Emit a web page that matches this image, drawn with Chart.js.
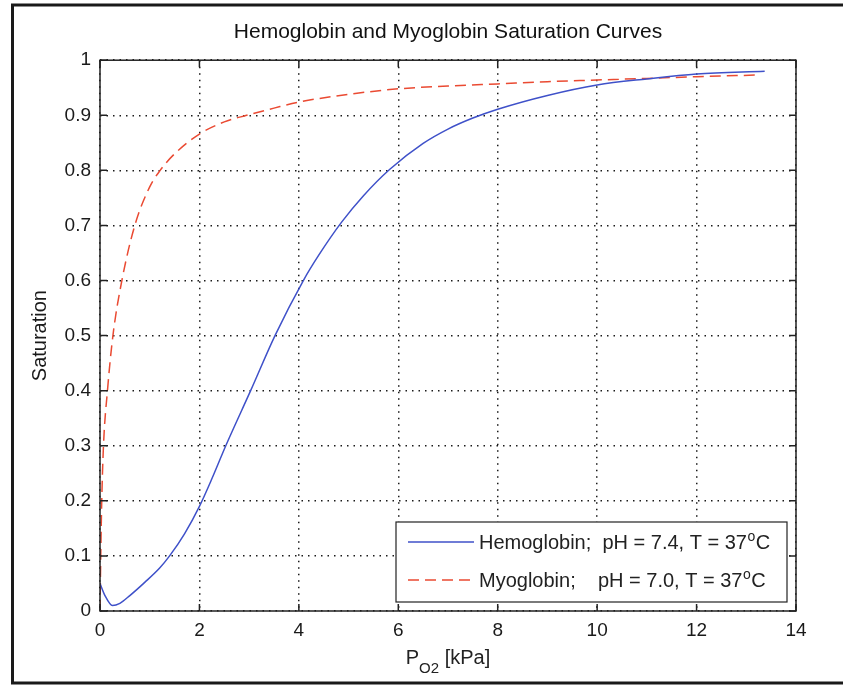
<!DOCTYPE html>
<html>
<head>
<meta charset="utf-8">
<script src="https://cdn.jsdelivr.net/npm/chart.js@4.4.1/dist/chart.umd.min.js"></script>
<style>
    html, body { margin: 0; padding: 0; background: #fff; }
    #wrap { width: 843px; height: 686px; }
</style>
</head>
<body>
<div id="wrap"><canvas id="c" width="843" height="686"></canvas></div>
<script>
// Curvas (P en kPa, saturación 0-1)
const hbP = [0, 0.1, 0.25, 0.4, 0.6, 0.9, 1.2, 1.4, 1.7, 2.0, 2.25, 2.53, 3.03, 3.52, 4.09, 4.4, 4.86, 5.3, 5.83, 6.5, 7.0, 7.5, 8.0, 9.0, 10.0, 11.0, 12.0, 13.37];
const hbS = [0.05, 0.028, 0.01, 0.014, 0.028, 0.052, 0.078, 0.1, 0.14, 0.19, 0.24, 0.3, 0.4, 0.5, 0.6, 0.646, 0.706, 0.754, 0.802, 0.849, 0.875, 0.895, 0.911, 0.936, 0.955, 0.966, 0.975, 0.98];

const mbP = [0, 0.015, 0.035, 0.07, 0.15, 0.26, 0.44, 0.7, 1.0, 1.21, 1.5, 2.0, 2.5, 2.95, 3.5, 4.0, 5.0, 6.0, 7.0, 8.0, 9.0, 10.0, 11.0, 12.0, 13.2];
const mbS = [0, 0.1, 0.2, 0.3, 0.4, 0.5, 0.6, 0.7, 0.77, 0.8, 0.83, 0.866, 0.888, 0.9, 0.913, 0.924, 0.938, 0.948, 0.953, 0.957, 0.961, 0.964, 0.967, 0.97, 0.973];

const TITULO = 'Hemoglobin and Myoglobin Saturation Curves';
const ETIQ_Y = 'Saturation';
const LEYENDA = ['Hemoglobin;  pH = 7.4, T = 37', 'Myoglobin;    pH = 7.0, T = 37'];

const AZUL = '#3f51c9';
const ROJO = '#ea4a32';
const FUENTE = '"Liberation Sans", Arial, sans-serif';

const pares = (xs, ys) => xs.map((x, i) => ({ x, y: ys[i] }));

// Caja estilo MATLAB: marco de la figura, ejes con ticks hacia dentro, leyenda y etiqueta X
const cajaMatlab = {
    id: 'cajaMatlab',
    beforeDraw(chart) {
        const c = chart.ctx;
        c.save();
        c.fillStyle = '#fff';
        c.fillRect(0, 0, chart.width, chart.height);
        c.strokeStyle = '#1a1a1a';
        c.lineWidth = 3;
        c.beginPath();
        c.moveTo(843, 5); c.lineTo(12.5, 5); c.lineTo(12.5, 683); c.lineTo(843, 683);
        c.stroke();
        c.restore();
    },
    afterDraw(chart) {
        const c = chart.ctx;
        const a = chart.chartArea;
        const sx = chart.scales.x, sy = chart.scales.y;
        c.save();
        c.strokeStyle = '#222';
        c.lineWidth = 1.5;
        c.strokeRect(a.left, a.top, a.right - a.left, a.bottom - a.top);
        c.beginPath();
        sx.ticks.forEach(t => {
            const px = sx.getPixelForValue(t.value);
            c.moveTo(px, a.bottom); c.lineTo(px, a.bottom - 7);
            c.moveTo(px, a.top); c.lineTo(px, a.top + 7);
        });
        sy.ticks.forEach(t => {
            const py = sy.getPixelForValue(t.value);
            c.moveTo(a.left, py); c.lineTo(a.left + 7, py);
            c.moveTo(a.right, py); c.lineTo(a.right - 7, py);
        });
        c.stroke();

        // etiqueta X con subíndice
        c.fillStyle = '#222';
        c.textBaseline = 'alphabetic';
        c.textAlign = 'left';
        const cx = (a.left + a.right) / 2;
        c.font = '20px ' + FUENTE;
        const wP = c.measureText('P').width;
        const wR = c.measureText(' [kPa]').width;
        c.font = '15px ' + FUENTE;
        const wS = c.measureText('O2').width;
        let x0 = cx - (wP + wS + wR) / 2;
        c.font = '20px ' + FUENTE;
        c.fillText('P', x0, 664);
        c.font = '15px ' + FUENTE;
        c.fillText('O2', x0 + wP, 673);
        c.font = '20px ' + FUENTE;
        c.fillText(' [kPa]', x0 + wP + wS, 664);

        // leyenda
        const bx = 396, by = 522, bw = 391, bh = 80;
        c.fillStyle = '#fff';
        c.fillRect(bx, by, bw, bh);
        c.strokeStyle = '#222';
        c.lineWidth = 1.2;
        c.strokeRect(bx, by, bw, bh);
        const filas = [
            { y: 542, color: AZUL, dash: [] },
            { y: 580, color: ROJO, dash: [11, 6] }
        ];
        filas.forEach((f, i) => {
            c.strokeStyle = f.color;
            c.lineWidth = 1.5;
            c.setLineDash(f.dash);
            c.beginPath();
            c.moveTo(408, f.y); c.lineTo(474, f.y);
            c.stroke();
            c.setLineDash([]);
            c.fillStyle = '#222';
            c.font = '20px ' + FUENTE;
            const base = f.y + 7;
            c.fillText(LEYENDA[i], 479, base);
            const w = c.measureText(LEYENDA[i]).width;
            c.font = '14px ' + FUENTE;
            c.fillText('o', 479 + w + 0.5, base - 8);
            const wo = c.measureText('o').width;
            c.font = '20px ' + FUENTE;
            c.fillText('C', 479 + w + wo + 1, base);
        });
        c.restore();
    }
};

new Chart(document.getElementById('c'), {
    type: 'scatter',
    data: {
        datasets: [
            {
                label: 'Hemoglobin',
                data: pares(hbP, hbS),
                showLine: true,
                borderColor: AZUL,
                borderWidth: 1.5,
                pointRadius: 0,
                cubicInterpolationMode: 'monotone'
            },
            {
                label: 'Myoglobin',
                data: pares(mbP, mbS),
                showLine: true,
                borderColor: ROJO,
                borderWidth: 1.5,
                borderDash: [11, 6],
                pointRadius: 0,
                cubicInterpolationMode: 'monotone'
            }
        ]
    },
    options: {
        responsive: false,
        animation: false,
        layout: { padding: { left: 0, right: 47, top: 0, bottom: 0 } },
        plugins: {
            legend: { display: false },
            tooltip: { enabled: false },
            title: {
                display: true,
                fullSize: false,
                text: TITULO,
                color: '#111',
                font: { family: FUENTE, size: 21, weight: 'normal' },
                padding: { top: 20, bottom: 15 }
            }
        },
        scales: {
            x: {
                type: 'linear',
                min: 0,
                max: 14,
                afterFit: (s) => { s.height = 75; },
                ticks: {
                    stepSize: 2,
                    color: '#1a1a1a',
                    padding: 8,
                    maxRotation: 0,
                    font: { family: FUENTE, size: 19 }
                },
                grid: { color: '#1a1a1a', lineWidth: 1.5, drawTicks: false },
                border: { display: false, dash: [1.5, 5] }
            },
            y: {
                min: 0,
                max: 1,
                afterFit: (s) => { s.width = 100; },
                ticks: {
                    stepSize: 0.1,
                    color: '#1a1a1a',
                    padding: 9,
                    font: { family: FUENTE, size: 19 },
                    callback: (v) => String(Math.round(v * 10) / 10)
                },
                grid: { color: '#1a1a1a', lineWidth: 1.5, drawTicks: false },
                border: { display: false, dash: [1.5, 5] },
                title: {
                    display: true,
                    text: ETIQ_Y,
                    color: '#1a1a1a',
                    font: { family: FUENTE, size: 20 },
                    padding: { top: 28, bottom: 0 }
                }
            }
        }
    },
    plugins: [cajaMatlab]
});
</script>
</body>
</html>
